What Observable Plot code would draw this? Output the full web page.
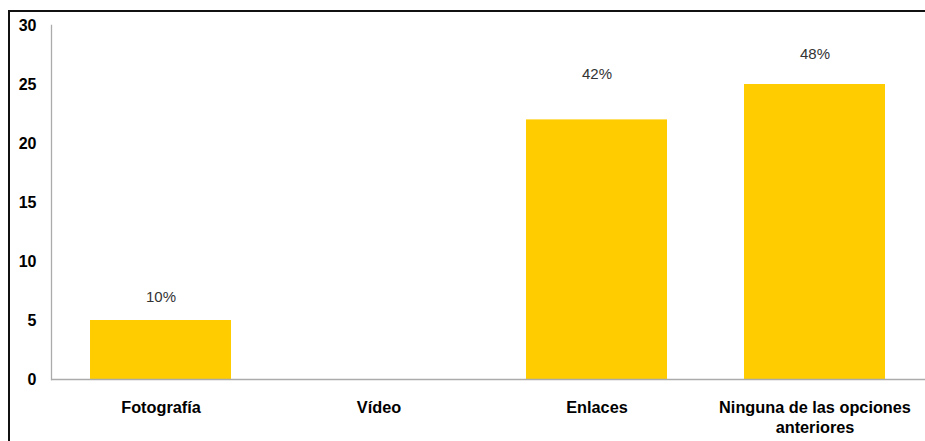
<!DOCTYPE html>
<html>
<head>
<meta charset="utf-8">
<script src="https://cdn.jsdelivr.net/npm/d3@7"></script>
<script src="https://cdn.jsdelivr.net/npm/@observablehq/plot@0.6"></script>
<style>
  html, body { margin: 0; padding: 0; background: #fff; }
  #wrap { position: relative; width: 925px; height: 441px; overflow: hidden; }
  #border { position: absolute; left: 8px; top: 10px; width: 940px; height: 460px;
            border-top: 2px solid #111; border-left: 2px solid #111; pointer-events: none; }
  #chart { position: absolute; left: 0; top: 0; }
</style>
</head>
<body>
<div id="wrap"><div id="chart"></div><div id="border"></div></div>
<script>
const categories = ["Fotografía", "Vídeo", "Enlaces", "Ninguna de las opciones\nanteriores"];
const values = [5, 0, 22, 25];
const percentLabels = ["10%", "", "42%", "48%"];
const labelAt = [6.95, 0, 25.85, 27.55];
const yTicks = [0, 5, 10, 15, 20, 25, 30];

const data = categories.map((c, i) => ({category: c, value: values[i], label: percentLabels[i], ly: labelAt[i]}));

const chart = Plot.plot({
  width: 925,
  height: 441,
  marginLeft: 51,
  marginRight: 0,
  marginTop: 25,
  marginBottom: 62,
  style: {fontFamily: "Liberation Sans, Arial, sans-serif", background: "transparent"},
  x: {domain: categories, paddingInner: 0.353, paddingOuter: 0.177},
  y: {domain: [0, 30]},
  marks: [
    Plot.barY(data, {x: "category", y: "value", fill: "#FFCC00"}),
    Plot.frame({anchor: "left", stroke: "#ababab", strokeWidth: 1.3}),
    Plot.ruleY([0], {stroke: "#ababab", strokeWidth: 1.3}),
    Plot.text(data.filter(d => d.label !== ""), {x: "category", y: "ly", text: "label",
      fill: "#333", fontSize: 15, lineAnchor: "middle"}),
    Plot.axisY({ticks: yTicks, tickSize: 0, tickPadding: 15, fontSize: 16, fontWeight: "bold",
      fill: "#000", label: null}),
    Plot.axisX({tickSize: 0, tickPadding: 20, fontSize: 16.3, fontWeight: "bold", fill: "#000",
      lineHeight: 1.2, label: null})
  ]
});
document.getElementById("chart").appendChild(chart);
</script>
</body>
</html>
